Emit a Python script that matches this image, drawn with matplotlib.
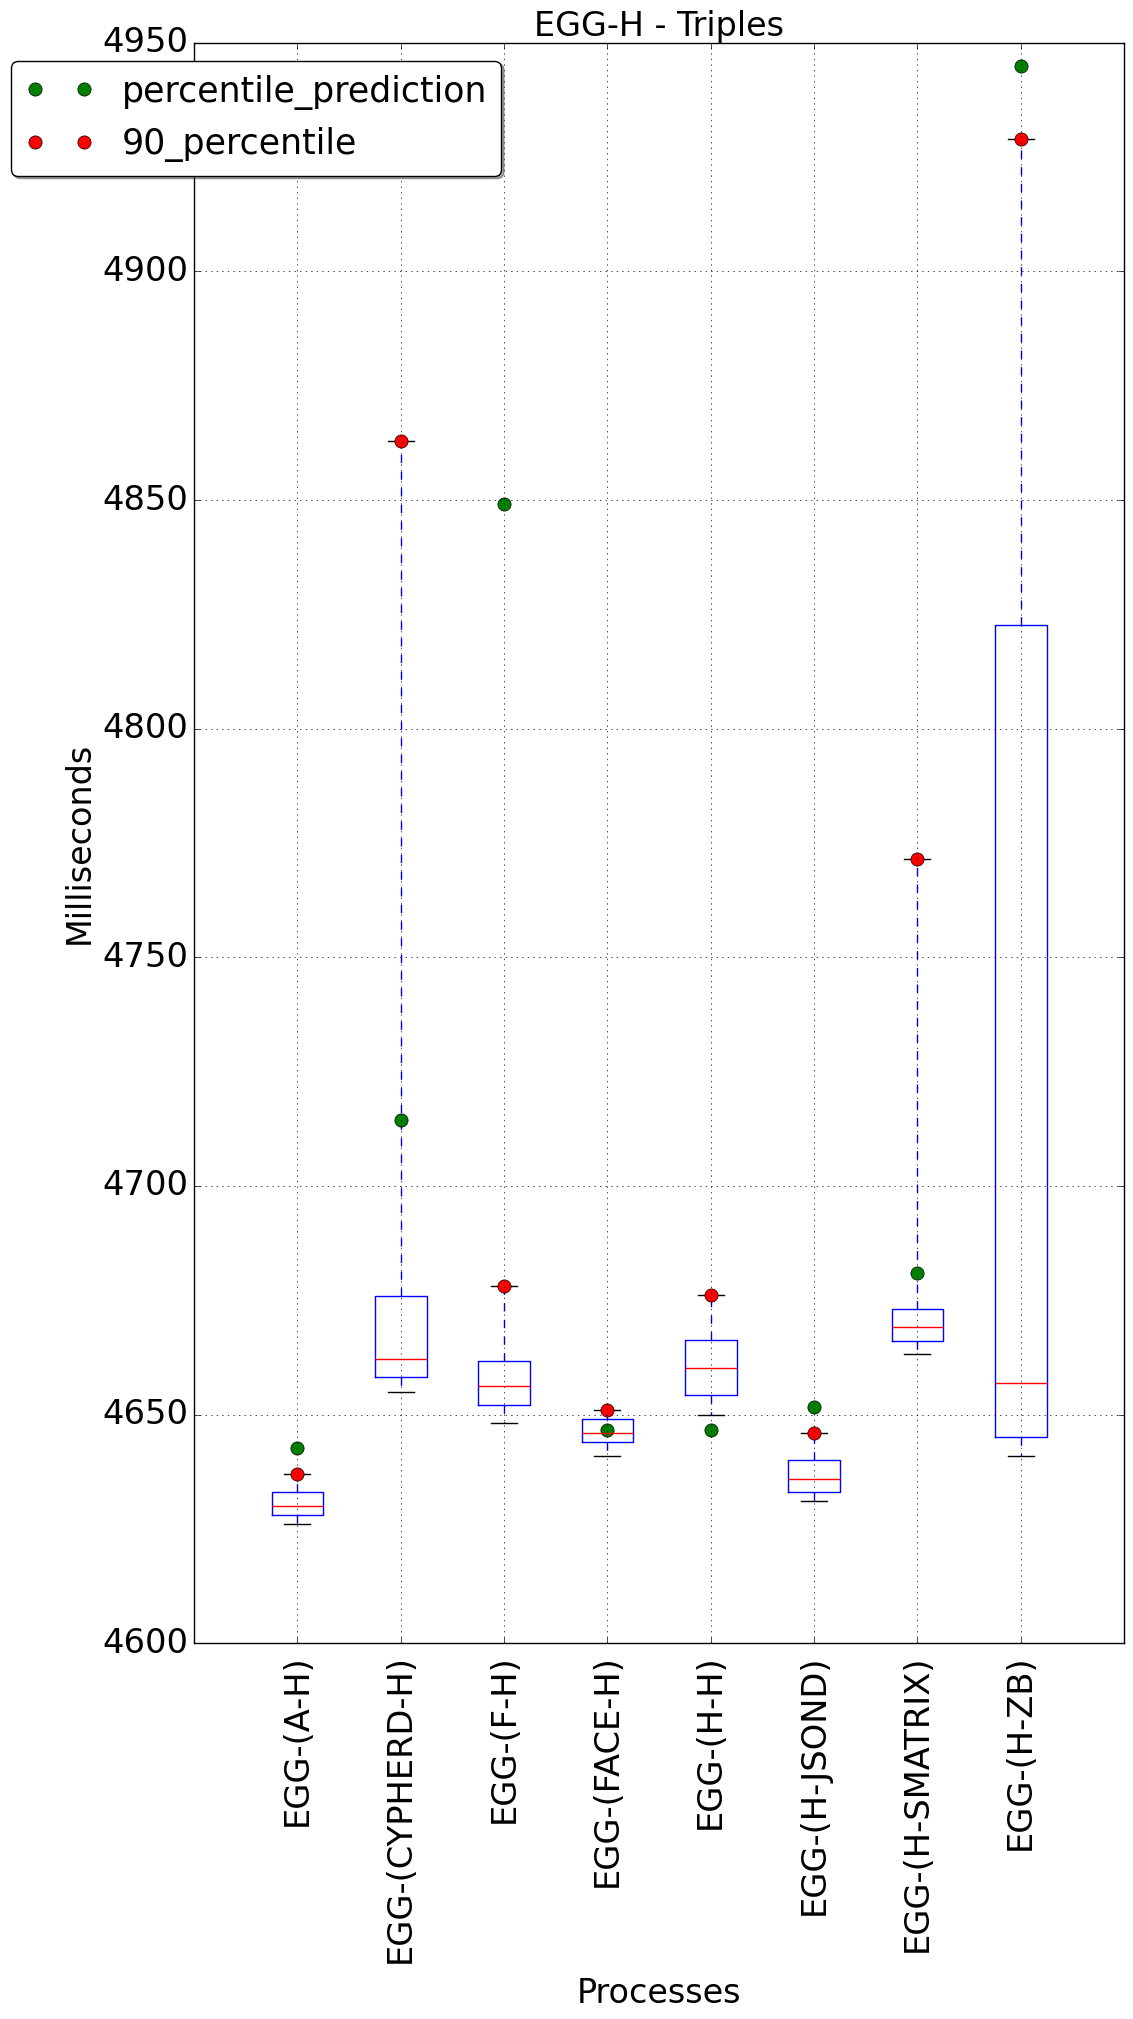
import matplotlib
matplotlib.use('Agg')
import matplotlib.pyplot as plt

plt.style.use('classic')

labels = ['EGG-(A-H)', 'EGG-(CYPHERD-H)', 'EGG-(F-H)', 'EGG-(FACE-H)',
          'EGG-(H-H)', 'EGG-(H-JSOND)', 'EGG-(H-SMATRIX)', 'EGG-(H-ZB)']
q1 = [4628.1, 4658.2, 4652.2, 4644.1, 4654.2, 4633.1, 4666.2, 4645.2]
med = [4630.0, 4662.1, 4656.2, 4646.0, 4660.2, 4636.0, 4669.1, 4657.0]
q3 = [4633.1, 4675.9, 4661.8, 4649.1, 4666.3, 4640.1, 4673.2, 4822.6]
whislo = [4626.1, 4655.0, 4648.1, 4640.9, 4650.0, 4631.1, 4663.2, 4641.0]
whishi = [4637.1, 4862.9, 4678.1, 4651.1, 4676.1, 4646.0, 4771.5, 4929.0]
pred = [4642.8, 4714.5, 4849.2, 4646.7, 4646.7, 4651.7, 4681.0, 4944.8]
p90 = [4637.1, 4862.9, 4678.1, 4651.1, 4676.1, 4646.0, 4771.5, 4929.0]
yticks = [4600, 4650, 4700, 4750, 4800, 4850, 4900, 4950]

FS = 24

fig = plt.figure(figsize=(11.33, 20.19), dpi=100, facecolor='white')
ax = fig.add_axes([0.17123, 0.18608, 0.82083, 0.79277])

positions = list(range(1, len(labels) + 1))
stats = []
for i, lab in enumerate(labels):
    stats.append(dict(label=lab, med=med[i], q1=q1[i], q3=q3[i],
                      whislo=whislo[i], whishi=whishi[i], fliers=[]))
ax.bxp(stats, positions=positions, widths=0.5)

ax.plot(positions, pred, linestyle='none', marker='o', color='green',
        markeredgecolor='k', markeredgewidth=0.5, markersize=9.5,
        label='percentile_prediction')
ax.plot(positions, p90, linestyle='none', marker='o', color='red',
        markeredgecolor='k', markeredgewidth=0.5, markersize=9.5,
        label='90_percentile')

ax.set_xlim(0, len(labels) + 1)
ax.set_ylim(4600, 4950)
ax.set_yticks(yticks)
ax.set_xticks(positions)
ax.set_xticklabels(labels, rotation=90, fontsize=24.3)
ax.tick_params(axis='y', labelsize=24.3)
ax.tick_params(axis='x', pad=8)
ax.grid(True)

ax.set_title('EGG-H - Triples', fontsize=FS)
ax.set_xlabel('Processes', fontsize=FS, labelpad=10)
ax.set_ylabel('Milliseconds', fontsize=FS)

ax.legend(loc='upper left', bbox_to_anchor=(-0.1971, 0.9888), borderaxespad=0,
          fancybox=True, shadow=True, numpoints=2, fontsize=25)

fig.savefig('out.png', dpi=100, facecolor='white')
